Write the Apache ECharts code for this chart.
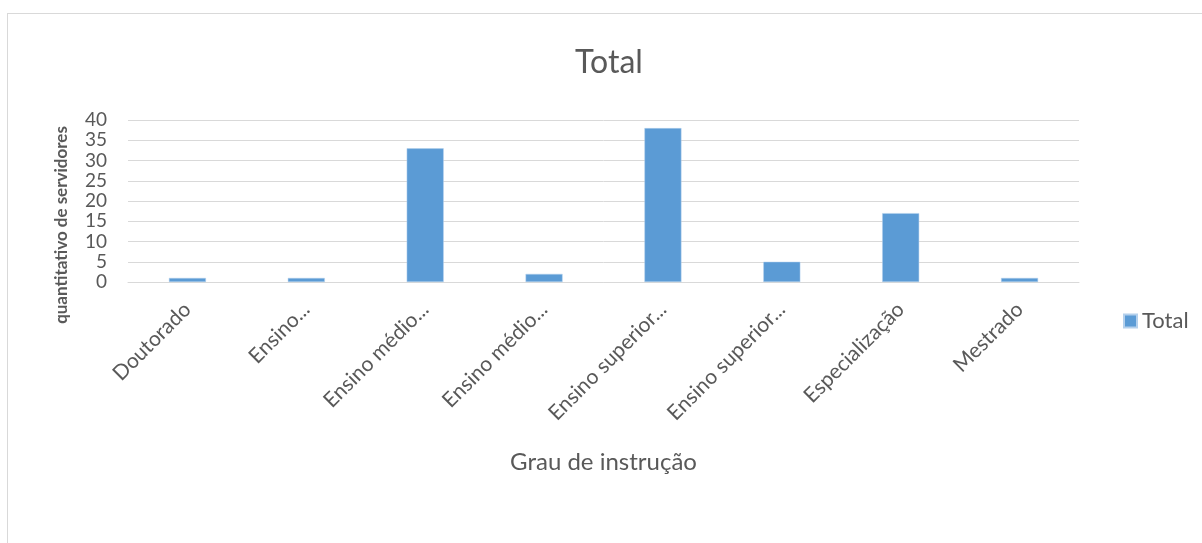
<!DOCTYPE html>
<html>
<head>
<meta charset="utf-8">
<script src="https://cdn.jsdelivr.net/npm/echarts@6/dist/echarts.min.js"></script>
<style>
  html, body { margin: 0; padding: 0; background: #fff; }
  #frame {
    position: absolute; left: 7px; top: 13px; width: 1200px; height: 540px;
    border: 1px solid #d9d9d9; box-sizing: border-box;
  }
  #chart { position: absolute; left: 0; top: 0; width: 1202px; height: 543px; }
</style>
</head>
<body>
<div id="frame"></div>
<div id="chart"></div>
<script>
// categorias (rótulos como aparecem, truncados)
const categorias = ['Doutorado', 'Ensino...', 'Ensino médio...', 'Ensino médio...',
  'Ensino superior...', 'Ensino superior...', 'Especialização', 'Mestrado'];
const totais = [1, 1, 33, 2, 38, 5, 17, 1];
const yTicks = { min: 0, max: 40, interval: 5 };

const fonte = 'Lato, "Open Sans", sans-serif';
const cinza = '#595959';

const chart = echarts.init(document.getElementById('chart'));
chart.setOption({
  animation: false,
  title: {
    text: 'Total',
    left: 604, top: 42, textAlign: 'center',
    textStyle: { fontFamily: fonte, fontSize: 32, fontWeight: 'normal', color: cinza }
  },
  legend: {
    data: ['Total'],
    left: 1118, top: 305,
    icon: 'rect',
    itemWidth: 13, itemHeight: 13, itemGap: 4,
    textStyle: { fontFamily: fonte, fontSize: 22, color: cinza }
  },
  grid: { left: 128, right: 123, top: 120, bottom: 261, containLabel: false },
  xAxis: {
    type: 'category',
    data: categorias,
    name: 'Grau de instrução',
    nameLocation: 'middle',
    nameGap: 168,
    nameTextStyle: { fontFamily: fonte, fontSize: 24, color: cinza },
    axisLine: { lineStyle: { color: '#d9d9d9', width: 1 } },
    axisTick: { show: false },
    axisLabel: {
      interval: 0, rotate: 45, margin: 24,
      fontFamily: fonte, fontSize: 21, color: cinza
    }
  },
  yAxis: {
    type: 'value',
    min: yTicks.min, max: yTicks.max, interval: yTicks.interval,
    name: 'quantitativo de servidores',
    nameLocation: 'middle',
    nameGap: 58,
    nameTextStyle: { fontFamily: fonte, fontSize: 17, fontWeight: 'bold', color: cinza, padding: [0, 48, 0, 0] },
    axisLine: { show: false },
    axisTick: { show: false },
    axisLabel: {
      fontFamily: fonte, fontSize: 19, lineHeight: 16, color: cinza, margin: 21,
      showMinLabel: true, showMaxLabel: true, hideOverlap: false
    },
    splitLine: { lineStyle: { color: '#d9d9d9', width: 1 } }
  },
  series: [{
    name: 'Total',
    type: 'bar',
    data: totais,
    barWidth: 37,
    itemStyle: { color: '#5b9bd5', borderColor: '#b4d0ec', borderWidth: 0.5 }
  }]
});
</script>
</body>
</html>
